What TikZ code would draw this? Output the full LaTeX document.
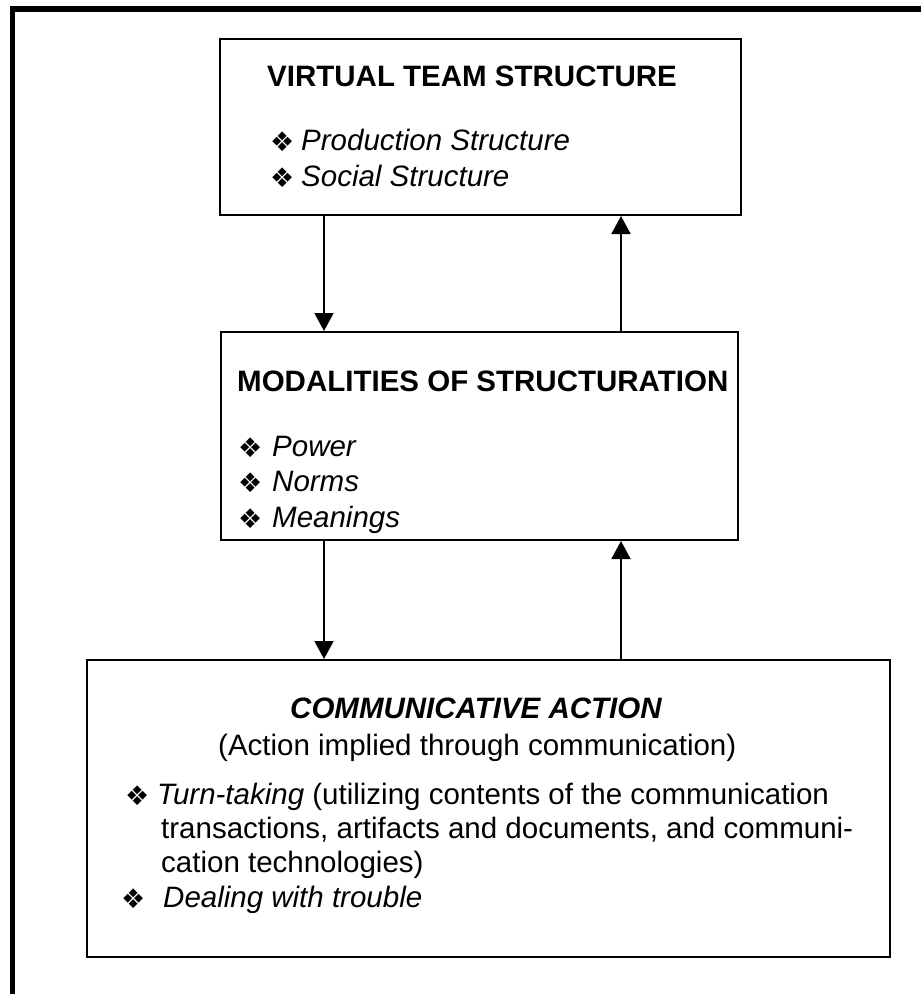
\documentclass[tikz,border=0pt]{standalone}
\usepackage{fontspec}
\setmainfont{Liberation Sans}
\newfontfamily\dingfont{DejaVu Sans}
\usetikzlibrary{arrows.meta}
\newcommand\diabullet{{\dingfont\fontsize{27}{27}\selectfont ❖}}
\begin{document}
\begin{tikzpicture}[x=1pt,y=-1pt,
  box/.style={draw, line width=2pt, shape=rectangle, anchor=north west, inner sep=0pt},
  txt/.style={anchor=base west, inner sep=0pt, font=\fontsize{29.5}{35}\selectfont},
  bul/.style={anchor=base west, inner sep=0pt},
  arr/.style={line width=1.8pt, -{Triangle[width=19pt,length=18pt]}},
  frame/.style={line width=5.5pt}]
\useasboundingbox (0,0) rectangle (921,994);
% outer frame
\coordinate (f1) at (12.5,994);
\coordinate (f2) at (12.5,9);
\coordinate (f3) at (921,9);
\draw[frame] (f1) -- (f2) -- (f3);
% boxes
\node[box, minimum width=521pt, minimum height=176pt] (top) at (219,38) {};
\node[box, minimum width=517pt, minimum height=208pt] (mid) at (220,331) {};
\node[box, minimum width=803pt, minimum height=297pt] (bot) at (86,659) {};
% arrows
\coordinate (ax1) at (324,0);
\coordinate (ax2) at (621,0);
\draw[arr] (top.south -| ax1) -- (mid.north -| ax1);
\draw[arr] (mid.north -| ax2) -- (top.south -| ax2);
\draw[arr] (mid.south -| ax1) -- (bot.north -| ax1);
\draw[arr] (bot.north -| ax2) -- (mid.south -| ax2);
% top box text
\node[txt, font=\fontsize{29.5}{35}\selectfont\bfseries] (t1) at (267,86) {VIRTUAL TEAM STRUCTURE};
\node[bul] (tb1) at (270,151) {\diabullet};
\node[txt, font=\fontsize{29.5}{35}\selectfont\itshape] (t2) at (301,150) {Production Structure};
\node[bul] (tb2) at (270,187) {\diabullet};
\node[txt, font=\fontsize{29.5}{35}\selectfont\itshape] (t3) at (301,186) {Social Structure};
% middle box text
\node[txt, font=\fontsize{29.5}{35}\selectfont\bfseries] (m1) at (237,391) {MODALITIES OF STRUCTURATION};
\node[bul] (mb1) at (238,457) {\diabullet};
\node[txt, font=\fontsize{29.5}{35}\selectfont\itshape] (m2) at (272,456) {Power};
\node[bul] (mb2) at (238,492) {\diabullet};
\node[txt, font=\fontsize{29.5}{35}\selectfont\itshape] (m3) at (272,491) {Norms};
\node[bul] (mb3) at (238,528) {\diabullet};
\node[txt, font=\fontsize{29.5}{35}\selectfont\itshape] (m4) at (272,527) {Meanings};
% bottom box text
\node[txt, font=\fontsize{29.5}{35}\selectfont\bfseries\itshape] (c1) at (290,718) {COMMUNICATIVE ACTION};
\node[txt] (c2) at (218,755) {(Action implied through communication)};
\node[bul] (cb1) at (125,805) {\diabullet};
\node[txt] (c3) at (157,804) {\textit{Turn-taking} (utilizing contents of the communication};
\node[txt] (c4) at (161,838) {transactions, artifacts and documents, and communi-};
\node[txt] (c5) at (161,872) {cation technologies)};
\node[bul] (cb2) at (121,908) {\diabullet};
\node[txt, font=\fontsize{29.5}{35}\selectfont\itshape] (c6) at (163,907) {Dealing with trouble};
\end{tikzpicture}
\end{document}
